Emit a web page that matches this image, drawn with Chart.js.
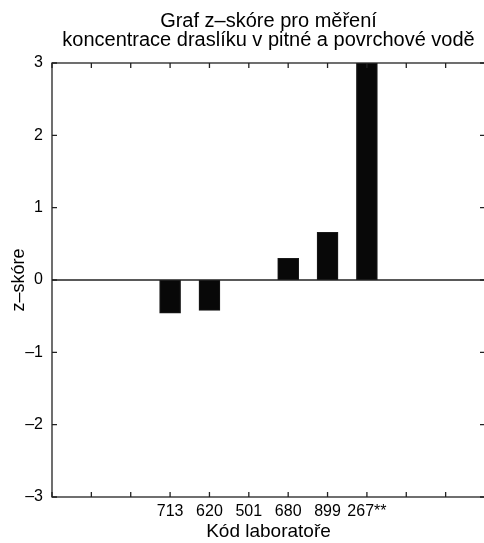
<!DOCTYPE html>
<html>
<head>
<meta charset="utf-8">
<script src="https://cdn.jsdelivr.net/npm/chart.js@4"></script>
<style>
  html, body { margin: 0; padding: 0; overflow: hidden; background: #fff; }
  #zChart { position: absolute; left: 0; top: 0; }
</style>
</head>
<body>
<canvas id="zChart" width="490" height="543"></canvas>
<script>
// positions along the x axis, only the middle ones carry a lab code
const labCodes = ['', '', '', '713', '620', '501', '680', '899', '267**', '', '', '']
const zScores = [null, null, null, -0.46, -0.42, 0, 0.30, 0.66, 3, null, null, null]
const yTicks = [-3, -2, -1, 0, 1, 2, 3]

const fontFamily = '"Liberation Sans", Arial, Helvetica, sans-serif'

// frame, zero line and inward tick marks on all four sides
const framePlugin = {
  id: 'frame',
  afterDatasetsDraw(chart) {
    const { ctx, chartArea: a, scales } = chart
    const x = scales.x
    const y = scales.y
    const len = 5
    ctx.save()
    ctx.strokeStyle = '#222'
    ctx.lineWidth = 1.3
    ctx.strokeRect(a.left, a.top, a.right - a.left, a.bottom - a.top)

    const y0 = y.getPixelForValue(0)
    ctx.beginPath()
    ctx.moveTo(a.left, y0)
    ctx.lineTo(a.right, y0)
    ctx.stroke()

    ctx.beginPath()
    for (let i = 0; i < labCodes.length; i++) {
      const px = x.getPixelForValue(i)
      ctx.moveTo(px, a.bottom)
      ctx.lineTo(px, a.bottom - len)
      ctx.moveTo(px, a.top)
      ctx.lineTo(px, a.top + len)
    }
    yTicks.forEach(v => {
      const py = y.getPixelForValue(v)
      ctx.moveTo(a.left, py)
      ctx.lineTo(a.left + len, py)
      ctx.moveTo(a.right, py)
      ctx.lineTo(a.right - len, py)
    })
    ctx.stroke()
    ctx.restore()
  }
}

const ctx = document.getElementById('zChart').getContext('2d')
const chart = new Chart(ctx, {
  type: 'bar',
  data: {
    labels: labCodes,
    datasets: [{
      data: zScores,
      backgroundColor: '#080808',
      borderColor: '#1a1a1a',
      borderWidth: 1,
      barThickness: 21
    }]
  },
  options: {
    responsive: false,
    animation: false,
    layout: { padding: { left: 0, right: 5, top: 0, bottom: 0 } },
    plugins: {
      legend: { display: false },
      tooltip: { enabled: false },
      title: {
        display: true,
        fullSize: false,
        text: ['Graf z\u2013skóre pro měření', 'koncentrace draslíku v pitné a povrchové vodě'],
        color: '#000',
        font: { family: fontFamily, size: 20, weight: 'normal', lineHeight: 0.95 },
        padding: { top: 11.5, bottom: 13.5 }
      }
    },
    scales: {
      x: {
        type: 'category',
        offset: false,
        afterFit(scale) { scale.height = 46 },
        grid: { display: false, drawTicks: false },
        border: { display: false },
        ticks: {
          autoSkip: false,
          maxRotation: 0,
          padding: 5,
          color: '#000',
          font: { family: fontFamily, size: 16 }
        },
        title: {
          display: true,
          text: 'Kód laboratoře',
          color: '#000',
          font: { family: fontFamily, size: 19 },
          padding: { top: 0, bottom: 0 }
        }
      },
      y: {
        min: -3,
        max: 3,
        afterFit(scale) { scale.width = 52 },
        grid: { display: false, drawTicks: false },
        border: { display: false },
        afterBuildTicks(scale) { scale.ticks = yTicks.map(v => ({ value: v })) },
        ticks: {
          padding: 9,
          color: '#000',
          font: { family: fontFamily, size: 16 },
          callback: v => v < 0 ? '\u2013' + Math.abs(v) : String(v)
        },
        title: {
          display: true,
          text: 'z\u2013skóre',
          color: '#000',
          font: { family: fontFamily, size: 18 },
          padding: { top: 8, bottom: 0 }
        }
      }
    }
  },
  plugins: [framePlugin]
})
</script>
</body>
</html>
